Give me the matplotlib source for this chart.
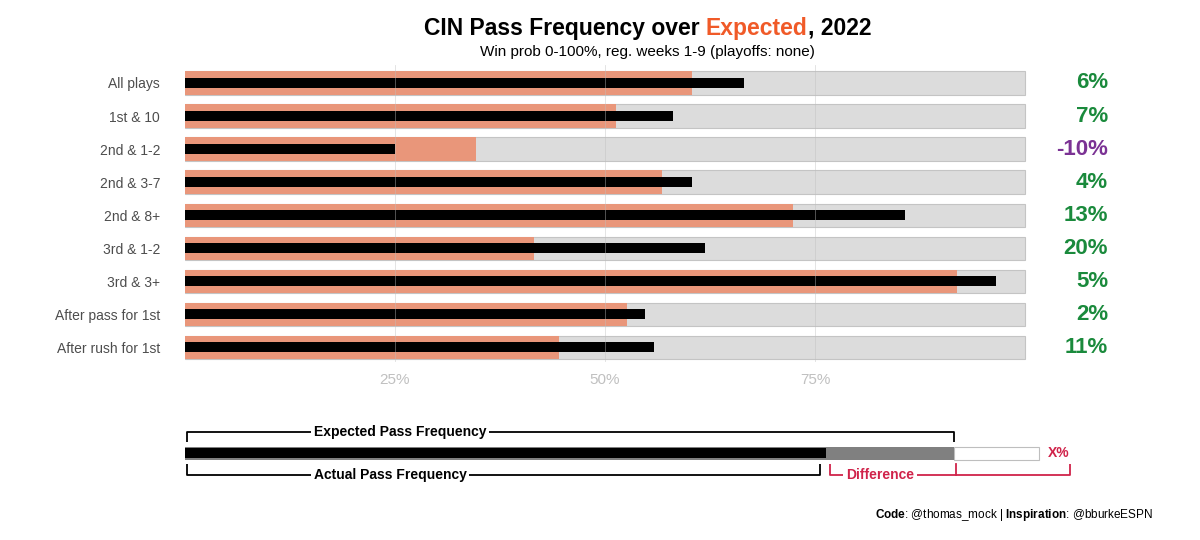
import matplotlib
matplotlib.use("Agg")
from matplotlib import pyplot as plt

plt.rcParams['font.family'] = ['Liberation Sans', 'DejaVu Sans']
plt.rcParams['mathtext.fontset'] = 'custom'
plt.rcParams['mathtext.rm'] = 'Liberation Sans'
plt.rcParams['mathtext.bf'] = 'Liberation Sans:bold'

# ---------------- data ----------------
situations = ["All plays", "1st & 10", "2nd & 1-2", "2nd & 3-7", "2nd & 8+",
              "3rd & 1-2", "3rd & 3+", "After pass for 1st", "After rush for 1st"]
expected = [0.603, 0.513, 0.346, 0.568, 0.724, 0.415, 0.919, 0.526, 0.445]
actual = [0.665, 0.581, 0.250, 0.604, 0.857, 0.619, 0.965, 0.548, 0.558]
x_ticks = [0.25, 0.50, 0.75]
x_tick_labels = ["25%", "50%", "75%"]

# legend example bar
leg_expected = 0.915
leg_actual = 0.763
leg_total = 1.017

GREEN = '#1a8a3c'
PURPLE = '#7b3294'
SALMON = '#E9967A'
ORANGE = '#F05A28'
CRIMSON = '#D0234A'

W, H = 1200, 540
fig = plt.figure(figsize=(12, 5.4), dpi=100)

px_per_unit = 840.0
x0 = 185
x_right = 1110
xmax = (x_right - x0) / px_per_unit

# ---------------- main panel ----------------
ax = fig.add_axes([x0 / W, 1 - 362 / H, (x_right - x0) / W, 297 / H])
ax.set_xlim(0, xmax)
ax.set_ylim(8.45, -0.545)
for s in ax.spines.values():
    s.set_visible(False)

rows = list(range(len(situations)))
ax.barh(rows, [1.0] * len(rows), height=0.7, color='#DCDCDC',
        edgecolor='#C4C4C4', linewidth=0.8, zorder=1)
ax.barh(rows, expected, height=0.7, color=SALMON, zorder=2)
ax.barh(rows, actual, height=0.3, color='black', zorder=3)
for xt in x_ticks:
    ax.axvline(xt, ymin=0, ymax=1, color='#BFBFBF', lw=0.6, alpha=0.5, zorder=4)

for i, (e, a) in enumerate(zip(expected, actual)):
    d = round((a - e) * 100)
    ax.text((1108 - x0) / px_per_unit, i, f"{d}%", ha='right', va='center',
            fontsize=16, fontweight='bold', color=GREEN if d >= 0 else PURPLE)

ax.set_yticks(rows)
ax.set_yticklabels(situations, fontsize=10, color='#4d4d4d')
ax.set_xticks(x_ticks)
ax.set_xticklabels(x_tick_labels, fontsize=11, color='#C0C0C0')
ax.tick_params(length=0)
ax.tick_params(axis='y', pad=18)
ax.tick_params(axis='x', pad=8)

# ---------------- legend panel ----------------
lg = fig.add_axes([x0 / W, 1 - 495 / H, (x_right - x0) / W, 80 / H])
lg.set_xlim(0, xmax)
lg.set_ylim(495, 415)
lg.axis('off')

bar_y = 453
lg.barh(bar_y, leg_total - leg_expected, left=leg_expected, height=13,
        color='white', edgecolor='#BEBEBE', linewidth=0.8)
lg.barh(bar_y, leg_expected, height=13, color='#808080')
lg.barh(bar_y, leg_actual, height=10, color='black')

top_y, top_tip = 432, 442
bot_y, bot_tip = 475, 464
start = 0.002
lw = 1.3

lg.plot([start, start, leg_expected, leg_expected], [top_tip, top_y, top_y, top_tip],
        color='black', lw=lw, solid_capstyle='butt')
lg.plot([start, start, leg_actual - 0.007, leg_actual - 0.007], [bot_tip, bot_y, bot_y, bot_tip],
        color='black', lw=lw, solid_capstyle='butt')
red_end = leg_total + 0.036
lg.plot([leg_actual + 0.005, leg_actual + 0.005, red_end, red_end], [bot_tip, bot_y, bot_y, bot_tip],
        color=CRIMSON, lw=lw, solid_capstyle='butt')
lg.plot([leg_expected + 0.003, leg_expected + 0.003], [bot_y, bot_tip], color=CRIMSON, lw=lw)

box = dict(facecolor='white', edgecolor='none', pad=2)
lg.text(0.153, top_y, "Expected Pass Frequency", ha='left', va='center', fontsize=10,
        fontweight='bold', bbox=box)
lg.text(0.153, bot_y, "Actual Pass Frequency", ha='left', va='center', fontsize=10,
        fontweight='bold', bbox=box)
lg.text(leg_actual + 0.024, bot_y, "Difference", ha='left', va='center', fontsize=10,
        fontweight='bold', color=CRIMSON, bbox=box)
lg.text(red_end - 0.013, bar_y, "X%", ha='center', va='center', fontsize=10,
        fontweight='bold', color=CRIMSON)

# ---------------- title / caption ----------------
renderer = fig.canvas.get_renderer()


def measured_pieces(pieces, x, y, size, align='center'):
    texts = []
    for s, color, weight in pieces:
        # measure with a visible sentinel so trailing/leading spaces count
        probe = fig.text(0, 0, "|" + s + "|", fontsize=size, fontweight=weight)
        bar = fig.text(0, 0, "||", fontsize=size, fontweight=weight)
        w = (probe.get_window_extent(renderer).width - bar.get_window_extent(renderer).width) / W
        probe.remove()
        bar.remove()
        t = fig.text(0, y, s, fontsize=size, color=color, fontweight=weight,
                     ha='left', va='baseline')
        texts.append((t, w))
    total = sum(w for _, w in texts)
    cur = x - total / 2 if align == 'center' else x - total
    for t, w in texts:
        t.set_x(cur)
        cur += w


cx = (x0 + x_right) / 2 / W
measured_pieces([("CIN Pass Frequency over ", 'black', 'bold'),
                 ("Expected", ORANGE, 'bold'),
                 (", 2022", 'black', 'bold')], cx, 1 - 35 / H, 16.5)
fig.text(cx, 1 - 56 / H, "Win prob 0-100%, reg. weeks 1-9 (playoffs: none)",
         ha='center', va='baseline', fontsize=11)

fig.text(1153 / W, 1 - 518 / H, r"$\bf{Code}$: @thomas_mock | $\bf{Inspiration}$: @bburkeESPN",
         ha='right', va='baseline', fontsize=8.5)

fig.savefig("out.png", dpi=100)
